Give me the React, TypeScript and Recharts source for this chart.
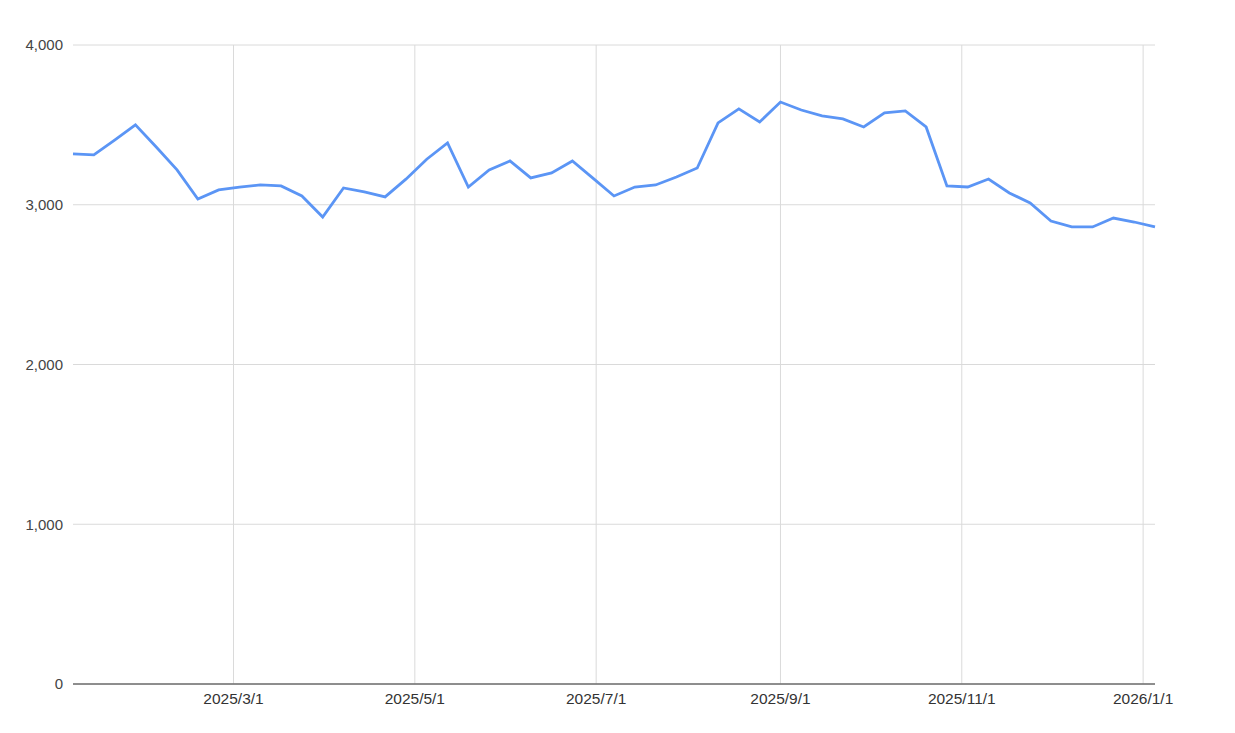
import React from 'react';
import { LineChart, Line, XAxis, YAxis, CartesianGrid } from 'recharts';

const dates: string[] = [
  '2025-01-06', '2025-01-13', '2025-01-20', '2025-01-27',
  '2025-02-03', '2025-02-10', '2025-02-17', '2025-02-24',
  '2025-03-03', '2025-03-10', '2025-03-17', '2025-03-24', '2025-03-31',
  '2025-04-07', '2025-04-14', '2025-04-21', '2025-04-28',
  '2025-05-05', '2025-05-12', '2025-05-19', '2025-05-26',
  '2025-06-02', '2025-06-09', '2025-06-16', '2025-06-23', '2025-06-30',
  '2025-07-07', '2025-07-14', '2025-07-21', '2025-07-28',
  '2025-08-04', '2025-08-11', '2025-08-18', '2025-08-25',
  '2025-09-01', '2025-09-08', '2025-09-15', '2025-09-22', '2025-09-29',
  '2025-10-06', '2025-10-13', '2025-10-20', '2025-10-27',
  '2025-11-03', '2025-11-10', '2025-11-17', '2025-11-24',
  '2025-12-01', '2025-12-08', '2025-12-15', '2025-12-22', '2025-12-29',
  '2026-01-05',
];

const values: number[] = [
  3318, 3312, 3405, 3500,
  3362, 3218, 3036, 3093,
  3111, 3124, 3118, 3055, 2923,
  3105, 3080, 3049, 3160,
  3285, 3387, 3111, 3218,
  3274, 3168, 3199, 3274, 3165,
  3055, 3111, 3124, 3174,
  3230, 3512, 3600, 3518,
  3643, 3593, 3556, 3537, 3487,
  3575, 3587, 3487, 3118,
  3111, 3161, 3074, 3011,
  2898, 2861, 2861, 2917, 2892,
  2861,
];

const xTickDates: string[] = ['2025-03-01', '2025-05-01', '2025-07-01', '2025-09-01', '2025-11-01', '2026-01-01'];
const yTicks: number[] = [0, 1000, 2000, 3000, 4000];

const data = dates.map((d, i) => ({ t: Date.parse(d + 'T00:00:00Z'), v: values[i] }));
const xTicks = xTickDates.map((d) => Date.parse(d + 'T00:00:00Z'));

const fmtDate = (t: number) => {
  const d = new Date(t);
  return `${d.getUTCFullYear()}/${d.getUTCMonth() + 1}/${d.getUTCDate()}`;
};
const fmtNum = (v: number) => v.toLocaleString('en-US');

const FONT = '"Liberation Sans", Arial, sans-serif';

const verticalGen = (props: any) => {
  const axis = props && props.xAxis;
  if (axis && typeof axis.scale === 'function') {
    return xTicks.map((t) => axis.scale(t));
  }
  const off = props.offset;
  const t0 = data[0].t;
  const t1 = data[data.length - 1].t;
  return xTicks.map((t) => off.left + ((t - t0) / (t1 - t0)) * off.width);
};

export default function App() {
  return (
    <div style={{ position: 'absolute', left: 0, top: 0, background: '#fff' }}>
      <LineChart
        width={1235}
        height={733}
        data={data}
        margin={{ top: 45, right: 80, left: 0, bottom: 9 }}
      >
        <CartesianGrid stroke="#dadada" strokeWidth={1} verticalCoordinatesGenerator={verticalGen} />
        <XAxis
          dataKey="t"
          type="number"
          scale="linear"
          domain={[data[0].t, data[data.length - 1].t]}
          ticks={xTicks}
          tickFormatter={fmtDate}
          tickLine={false}
          tickSize={0}
          tickMargin={9}
          height={40}
          axisLine={{ stroke: '#6e6e6e', strokeWidth: 1.5 }}
          tick={{ fill: '#333', fontSize: 15.5, fontFamily: FONT }}
          interval={0}
        />
        <YAxis
          type="number"
          domain={[0, 4000]}
          ticks={yTicks}
          tickFormatter={fmtNum}
          width={73}
          tickLine={false}
          tickSize={0}
          tickMargin={10}
          axisLine={false}
          tick={{ fill: '#444', fontSize: 15, fontFamily: FONT }}
          interval={0}
        />
        <Line
          type="linear"
          dataKey="v"
          stroke="#5b95f5"
          strokeWidth={2.8}
          dot={false}
          activeDot={false}
          isAnimationActive={false}
        />
      </LineChart>
    </div>
  );
}
